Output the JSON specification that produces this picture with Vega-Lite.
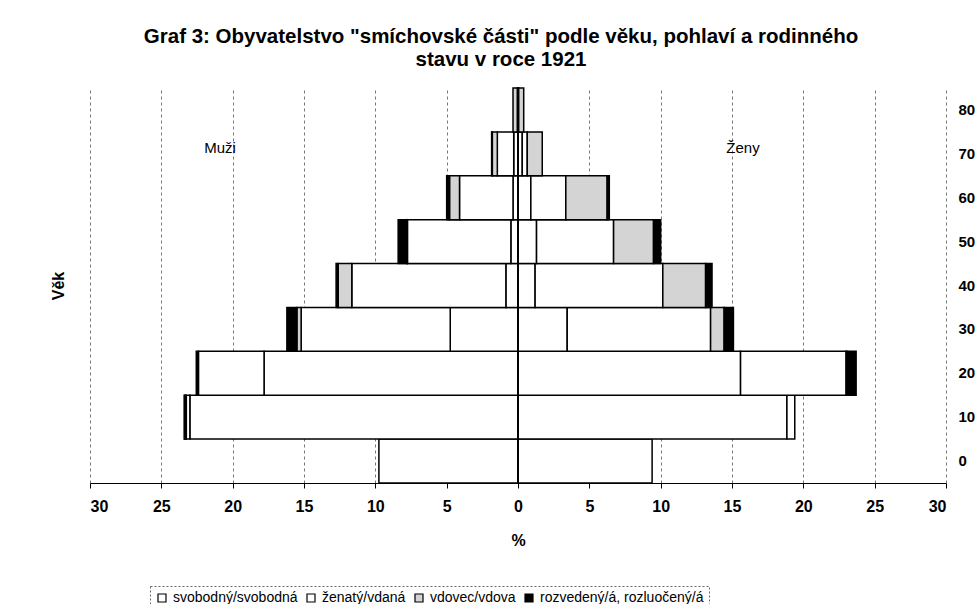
{
  "$schema": "https://vega.github.io/schema/vega-lite/v6.json",
  "autosize": {"type": "none"},
  "width": 856,
  "height": 395,
  "padding": {"left": 90, "top": 88, "right": 32, "bottom": 121},
  "background": "white",
  "config": {
    "font": "Liberation Sans",
    "view": {"stroke": null}
  },
  "title": {
    "text": ["Graf 3: Obyvatelstvo \"smíchovské části\" podle věku, pohlaví a rodinného", "stavu v roce 1921"],
    "font": "Liberation Sans",
    "fontSize": 20.5,
    "fontWeight": "bold",
    "lineHeight": 23,
    "anchor": "middle",
    "dx": -17,
    "offset": 17,
    "color": "black"
  },
  "datasets": {
    "pyramid": [
      {"vek": 0, "pohlavi": "Muži", "stav": "svobodný/svobodná", "k": 1, "podil": -9.75},
      {"vek": 0, "pohlavi": "Ženy", "stav": "svobodný/svobodná", "k": 1, "podil": 9.4},
      {"vek": 10, "pohlavi": "Muži", "stav": "svobodný/svobodná", "k": 1, "podil": -23.0},
      {"vek": 10, "pohlavi": "Muži", "stav": "ženatý/vdaná", "k": 2, "podil": -0.25},
      {"vek": 10, "pohlavi": "Muži", "stav": "vdovec/vdova", "k": 3, "podil": -0.1},
      {"vek": 10, "pohlavi": "Muži", "stav": "rozvedený/á, rozluočený/á", "k": 4, "podil": -0.05},
      {"vek": 10, "pohlavi": "Ženy", "stav": "svobodný/svobodná", "k": 1, "podil": 18.85},
      {"vek": 10, "pohlavi": "Ženy", "stav": "ženatý/vdaná", "k": 2, "podil": 0.55},
      {"vek": 20, "pohlavi": "Muži", "stav": "svobodný/svobodná", "k": 1, "podil": -17.8},
      {"vek": 20, "pohlavi": "Muži", "stav": "ženatý/vdaná", "k": 2, "podil": -4.6},
      {"vek": 20, "pohlavi": "Muži", "stav": "rozvedený/á, rozluočený/á", "k": 4, "podil": -0.15},
      {"vek": 20, "pohlavi": "Ženy", "stav": "svobodný/svobodná", "k": 1, "podil": 15.6},
      {"vek": 20, "pohlavi": "Ženy", "stav": "ženatý/vdaná", "k": 2, "podil": 7.4},
      {"vek": 20, "pohlavi": "Ženy", "stav": "vdovec/vdova", "k": 3, "podil": 0.05},
      {"vek": 20, "pohlavi": "Ženy", "stav": "rozvedený/á, rozluočený/á", "k": 4, "podil": 0.65},
      {"vek": 30, "pohlavi": "Muži", "stav": "svobodný/svobodná", "k": 1, "podil": -4.75},
      {"vek": 30, "pohlavi": "Muži", "stav": "ženatý/vdaná", "k": 2, "podil": -10.45},
      {"vek": 30, "pohlavi": "Muži", "stav": "vdovec/vdova", "k": 3, "podil": -0.3},
      {"vek": 30, "pohlavi": "Muži", "stav": "rozvedený/á, rozluočený/á", "k": 4, "podil": -0.7},
      {"vek": 30, "pohlavi": "Ženy", "stav": "svobodný/svobodná", "k": 1, "podil": 3.45},
      {"vek": 30, "pohlavi": "Ženy", "stav": "ženatý/vdaná", "k": 2, "podil": 10.05},
      {"vek": 30, "pohlavi": "Ženy", "stav": "vdovec/vdova", "k": 3, "podil": 0.95},
      {"vek": 30, "pohlavi": "Ženy", "stav": "rozvedený/á, rozluočený/á", "k": 4, "podil": 0.65},
      {"vek": 40, "pohlavi": "Muži", "stav": "svobodný/svobodná", "k": 1, "podil": -0.85},
      {"vek": 40, "pohlavi": "Muži", "stav": "ženatý/vdaná", "k": 2, "podil": -10.8},
      {"vek": 40, "pohlavi": "Muži", "stav": "vdovec/vdova", "k": 3, "podil": -0.95},
      {"vek": 40, "pohlavi": "Muži", "stav": "rozvedený/á, rozluočený/á", "k": 4, "podil": -0.15},
      {"vek": 40, "pohlavi": "Ženy", "stav": "svobodný/svobodná", "k": 1, "podil": 1.2},
      {"vek": 40, "pohlavi": "Ženy", "stav": "ženatý/vdaná", "k": 2, "podil": 8.95},
      {"vek": 40, "pohlavi": "Ženy", "stav": "vdovec/vdova", "k": 3, "podil": 3.0},
      {"vek": 40, "pohlavi": "Ženy", "stav": "rozvedený/á, rozluočený/á", "k": 4, "podil": 0.45},
      {"vek": 50, "pohlavi": "Muži", "stav": "svobodný/svobodná", "k": 1, "podil": -0.5},
      {"vek": 50, "pohlavi": "Muži", "stav": "ženatý/vdaná", "k": 2, "podil": -7.25},
      {"vek": 50, "pohlavi": "Muži", "stav": "vdovec/vdova", "k": 3, "podil": -0.05},
      {"vek": 50, "pohlavi": "Muži", "stav": "rozvedený/á, rozluočený/á", "k": 4, "podil": -0.6},
      {"vek": 50, "pohlavi": "Ženy", "stav": "svobodný/svobodná", "k": 1, "podil": 1.3},
      {"vek": 50, "pohlavi": "Ženy", "stav": "ženatý/vdaná", "k": 2, "podil": 5.4},
      {"vek": 50, "pohlavi": "Ženy", "stav": "vdovec/vdova", "k": 3, "podil": 2.8},
      {"vek": 50, "pohlavi": "Ženy", "stav": "rozvedený/á, rozluočený/á", "k": 4, "podil": 0.5},
      {"vek": 60, "pohlavi": "Muži", "stav": "svobodný/svobodná", "k": 1, "podil": -0.35},
      {"vek": 60, "pohlavi": "Muži", "stav": "ženatý/vdaná", "k": 2, "podil": -3.75},
      {"vek": 60, "pohlavi": "Muži", "stav": "vdovec/vdova", "k": 3, "podil": -0.7},
      {"vek": 60, "pohlavi": "Muži", "stav": "rozvedený/á, rozluočený/á", "k": 4, "podil": -0.2},
      {"vek": 60, "pohlavi": "Ženy", "stav": "svobodný/svobodná", "k": 1, "podil": 0.9},
      {"vek": 60, "pohlavi": "Ženy", "stav": "ženatý/vdaná", "k": 2, "podil": 2.45},
      {"vek": 60, "pohlavi": "Ženy", "stav": "vdovec/vdova", "k": 3, "podil": 2.9},
      {"vek": 60, "pohlavi": "Ženy", "stav": "rozvedený/á, rozluočený/á", "k": 4, "podil": 0.15},
      {"vek": 70, "pohlavi": "Muži", "stav": "svobodný/svobodná", "k": 1, "podil": -0.3},
      {"vek": 70, "pohlavi": "Muži", "stav": "ženatý/vdaná", "k": 2, "podil": -1.15},
      {"vek": 70, "pohlavi": "Muži", "stav": "vdovec/vdova", "k": 3, "podil": -0.35},
      {"vek": 70, "pohlavi": "Muži", "stav": "rozvedený/á, rozluočený/á", "k": 4, "podil": -0.05},
      {"vek": 70, "pohlavi": "Ženy", "stav": "svobodný/svobodná", "k": 1, "podil": 0.3},
      {"vek": 70, "pohlavi": "Ženy", "stav": "ženatý/vdaná", "k": 2, "podil": 0.35},
      {"vek": 70, "pohlavi": "Ženy", "stav": "vdovec/vdova", "k": 3, "podil": 1.05},
      {"vek": 80, "pohlavi": "Muži", "stav": "svobodný/svobodná", "k": 1, "podil": -0.05},
      {"vek": 80, "pohlavi": "Muži", "stav": "vdovec/vdova", "k": 3, "podil": -0.3},
      {"vek": 80, "pohlavi": "Ženy", "stav": "svobodný/svobodná", "k": 1, "podil": 0.05},
      {"vek": 80, "pohlavi": "Ženy", "stav": "vdovec/vdova", "k": 3, "podil": 0.35}
    ],
    "popisky": [
      {"vek": 70, "x": -22.0, "text": "Muži"},
      {"vek": 70, "x": 14.6, "text": "Ženy"}
    ],
    "nula": [{"x": 0}]
  },
  "layer": [
    {
      "data": {"name": "pyramid"},
      "mark": {"type": "bar", "stroke": "black", "strokeWidth": 1.5},
      "encoding": {
        "y": {
          "field": "vek",
          "type": "ordinal",
          "sort": "descending",
          "scale": {"paddingInner": 0, "paddingOuter": 0},
          "axis": {
            "orient": "right",
            "title": null,
            "domain": false,
            "ticks": false,
            "labelPadding": 12,
            "labelAlign": "left",
            "labelFontSize": 15,
            "labelFontWeight": "bold",
            "labelColor": "black"
          }
        },
        "x": {
          "field": "podil",
          "type": "quantitative",
          "stack": "zero",
          "scale": {"domain": [-30, 30], "nice": false},
          "axis": {
            "values": [-30, -25, -20, -15, -10, -5, 0, 5, 10, 15, 20, 25, 30],
            "labelExpr": "abs(datum.value)",
            "title": "%",
            "titleFontSize": 16,
            "titleFontWeight": "bold",
            "titleColor": "black",
            "titlePadding": 18,
            "labelFontSize": 16,
            "labelFontWeight": "bold",
            "labelColor": "black",
            "labelPadding": 10,
            "tickSize": 5,
            "tickColor": "black",
            "domainColor": "black",
            "domainWidth": 1,
            "grid": true,
            "gridColor": "#777",
            "gridDash": [3, 3],
            "gridWidth": 1
          }
        },
        "color": {
          "field": "stav",
          "type": "nominal",
          "scale": {
            "domain": ["svobodný/svobodná", "ženatý/vdaná", "vdovec/vdova", "rozvedený/á, rozluočený/á"],
            "range": ["#ffffff", "#ffffff", "#d4d4d4", "#000000"]
          },
          "legend": {
            "title": null,
            "orient": "none",
            "legendX": 60,
            "legendY": 498,
            "direction": "horizontal",
            "columns": 4,
            "symbolType": "square",
            "symbolSize": 64,
            "symbolStrokeColor": "black",
            "symbolStrokeWidth": 1.2,
            "labelFontSize": 14,
            "labelLimit": 0,
            "labelColor": "black",
            "labelOffset": 4,
            "columnPadding": 6,
            "padding": 5,
            "strokeColor": "#666",
            "encode": {"legend": {"update": {"strokeDash": {"value": [2, 2]}}}}
          }
        },
        "order": {"field": "k", "type": "quantitative"}
      }
    },
    {
      "data": {"name": "popisky"},
      "mark": {"type": "text", "align": "left", "baseline": "middle", "fontSize": 15, "dy": -6, "color": "black"},
      "encoding": {
        "y": {
          "field": "vek",
          "type": "ordinal",
          "sort": "descending",
          "axis": {
            "orient": "left",
            "title": "Věk",
            "titleFontSize": 16,
            "titleFontWeight": "bold",
            "titleColor": "black",
            "titlePadding": 24,
            "labels": false,
            "ticks": false,
            "domain": false
          }
        },
        "x": {"field": "x", "type": "quantitative"},
        "text": {"field": "text"}
      }
    },
    {
      "data": {"name": "nula"},
      "mark": {"type": "rule", "color": "black", "strokeWidth": 2},
      "encoding": {
        "x": {"field": "x", "type": "quantitative"}
      }
    }
  ],
  "resolve": {"axis": {"y": "independent"}}
}
